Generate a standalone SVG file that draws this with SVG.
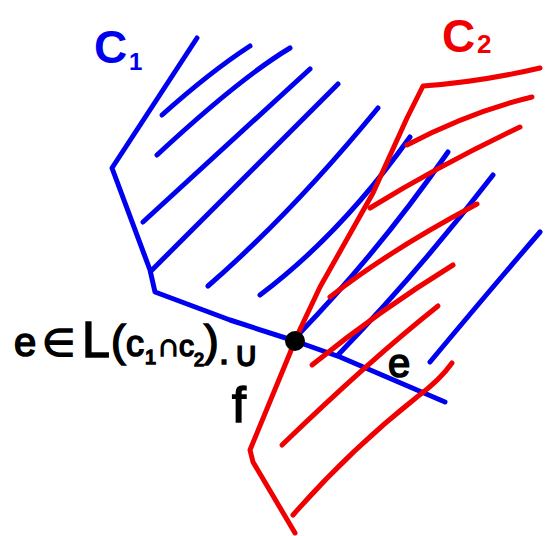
<svg xmlns="http://www.w3.org/2000/svg" width="546" height="536" viewBox="0 0 546 536">
<style>
.b{fill:none;stroke:#0000f0;stroke-width:5;stroke-linecap:round;stroke-linejoin:round}
.r{fill:none;stroke:#f00000;stroke-width:5;stroke-linecap:round;stroke-linejoin:round}
.t{font-family:"Liberation Sans","DejaVu Sans",sans-serif;font-weight:bold}
.k{font-family:"Liberation Sans","DejaVu Sans",sans-serif;stroke:#000;stroke-width:1.6;fill:#000}
</style>
<rect width="546" height="536" fill="#fff"/>
<g id="C1">
<path class="b" d="M197,38 L112,168 L150,270 L155,292 L230,320 L295,341 L340,357 L445,402"/>
<path class="b" d="M162,115 Q210,72 250,46"/>
<path class="b" d="M157,155 Q240,78 290,48"/>
<path class="b" d="M143,222 L310,69"/>
<path class="b" d="M152,270 L338,84"/>
<path class="b" d="M208,286 Q290,215 378,108"/>
<path class="b" d="M260,295 Q340,235 410,137"/>
<path class="b" d="M298,335 Q380,250 448,152"/>
<path class="b" d="M338,355 Q420,270 493,175"/>
<path class="b" d="M430,362 Q490,290 540,232"/>
<text class="t" x="94" y="63" font-size="46" fill="#0000f0">C</text>
<text class="t" x="129" y="70" font-size="24" fill="#0000f0">1</text>
</g>
<g id="C2">
<path class="r" d="M540,68 Q480,82 423,86 L407,118 L373,193 L320,287 L295,340 L290,353 L250,450 L253,462 L295,533"/>
<path class="r" d="M407,145 Q470,112 532,97"/>
<path class="r" d="M370,208 Q440,165 520,127"/>
<path class="r" d="M330,297 Q390,250 477,204"/>
<path class="r" d="M312,365 Q380,310 453,265"/>
<path class="r" d="M282,445 Q370,360 438,306"/>
<path class="r" d="M293,515 Q350,450 417,397 Q440,380 452,363"/>
<text class="t" x="442" y="52" font-size="46" fill="#f00000">C</text>
<text class="t" x="477" y="53" font-size="26" fill="#f00000">2</text>
</g>
<g id="point">
<circle cx="295" cy="341" r="10" fill="#000"/>
</g>
<g id="labels" class="k">
<text x="14" y="356" font-size="40">e</text>
<text x="42" y="356" font-size="38">∈</text>
<text x="82" y="357" font-size="50">L</text>
<text x="111" y="356" font-size="44">(</text>
<text x="126" y="356" font-size="36">c</text>
<text x="145" y="364" font-size="20">1</text>
<text x="157" y="356" font-size="32">∩</text>
<text x="179" y="356" font-size="30">c</text>
<text x="194" y="366" font-size="18">2</text>
<text x="204" y="356" font-size="44">)</text>
<text x="219" y="364" font-size="36">.</text>
<text x="234" y="366" font-size="34">∪</text>
<text x="232" y="422" font-size="50">f</text>
<text x="388" y="377" font-size="40">e</text>
</g>
</svg>
